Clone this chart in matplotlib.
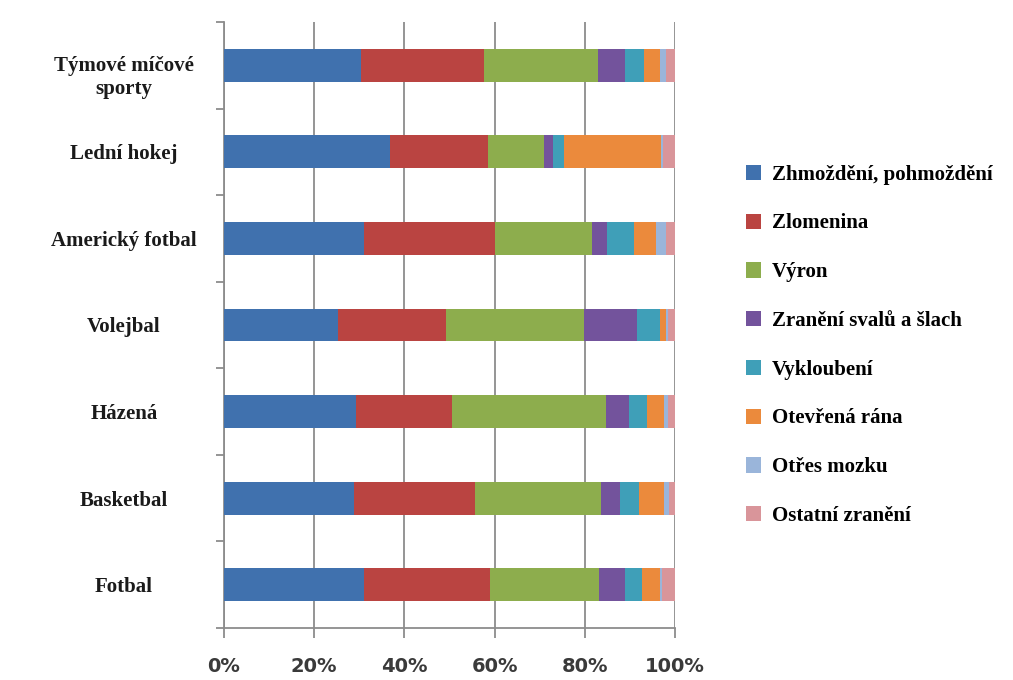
import matplotlib.pyplot as plt
import matplotlib.transforms as mtransforms
import numpy as np

sports = ['Fotbal', 'Basketbal', 'Házená', 'Volejbal', 'Americký fotbal',
          'Lední hokej', 'Týmové míčové\nsporty']
injuries = ['Zhmoždění, pohmoždění', 'Zlomenina', 'Výron', 'Zranění svalů a šlach',
            'Vykloubení', 'Otevřená rána', 'Otřes mozku', 'Ostatní zranění']

# percentages per sport, order: bottom (Fotbal) -> top (Týmové)
zhmozdeni = [31.1, 28.9, 29.2, 25.2, 31.1, 36.9, 30.3]
zlomenina = [27.8, 26.8, 21.4, 24.1, 28.9, 21.6, 27.3]
vyron = [24.2, 27.8, 34.2, 30.5, 21.6, 12.4, 25.4]
svaly = [5.9, 4.3, 5.0, 11.8, 3.4, 2.0, 6.0]
vykloubeni = [3.7, 4.2, 4.1, 5.1, 5.9, 2.5, 4.1]
rana = [4.0, 5.6, 3.7, 1.2, 4.8, 21.4, 3.6]
otres = [0.5, 1.1, 0.8, 0.5, 2.2, 0.5, 1.2]
ostatni = [2.8, 1.3, 1.6, 1.6, 2.1, 2.7, 2.1]

series = [zhmozdeni, zlomenina, vyron, svaly, vykloubeni, rana, otres, ostatni]
colors = ['#4071AE', '#BA4441', '#8DAD4D', '#73539C', '#3F9FB8', '#EB8A3C', '#9AB5DA', '#D9959A']

fig = plt.figure(figsize=(10.13, 6.8), dpi=100)
ax = fig.add_axes([224 / 1013, 52 / 680, 451 / 1013, 606 / 680])

y = np.arange(len(sports))
left = np.zeros(len(sports))
bars = []
for vals, col, name in zip(series, colors, injuries):
    b = ax.barh(y, vals, left=left, height=0.38, color=col, label=name, zorder=3)
    bars.append(b)
    left += np.array(vals)

ax.set_xlim(0, 100)
ax.set_ylim(-0.5, len(sports) - 0.5)
ax.set_xticks(np.arange(0, 101, 20))
ax.set_xticklabels([f'{v}%' for v in range(0, 101, 20)],
                   fontfamily='DejaVu Sans', fontweight='bold', fontsize=14, color='#3a3a3a')
ax.grid(axis='x', color='#8c8c8c', linewidth=1.3, zorder=0)

ax.set_yticks(y)
ax.set_yticklabels(sports, fontfamily='Liberation Serif', fontweight='bold',
                   fontsize=15, color='#1a1a1a', ha='center', linespacing=1.2)
ax.set_yticks(np.arange(-0.5, len(sports), 1), minor=True)
ax.tick_params(axis='y', which='major', length=0, pad=72)
ax.tick_params(axis='y', which='minor', length=6, color='#8c8c8c', width=1.3)
ax.tick_params(axis='x', which='major', length=7, color='#8c8c8c', width=1.3, pad=14)

# the two-line label sits a bit lower than its bar
top_label = ax.get_yticklabels()[-1]
top_label.set_transform(top_label.get_transform() +
                        mtransforms.ScaledTranslation(0, -8 / 100, fig.dpi_scale_trans))

for s in ['top', 'right']:
    ax.spines[s].set_visible(False)
for s in ['left', 'bottom']:
    ax.spines[s].set_color('#8c8c8c')
    ax.spines[s].set_linewidth(1.3)

fig.legend(handles=bars, loc='upper left', bbox_to_anchor=(727 / 1013, 1 - 146 / 680),
           frameon=False, prop={'family': 'Liberation Serif', 'weight': 'bold', 'size': 15},
           handlelength=0.75, handleheight=0.75, handletextpad=0.5, labelspacing=1.38)

fig.savefig('out.png', dpi=100)
